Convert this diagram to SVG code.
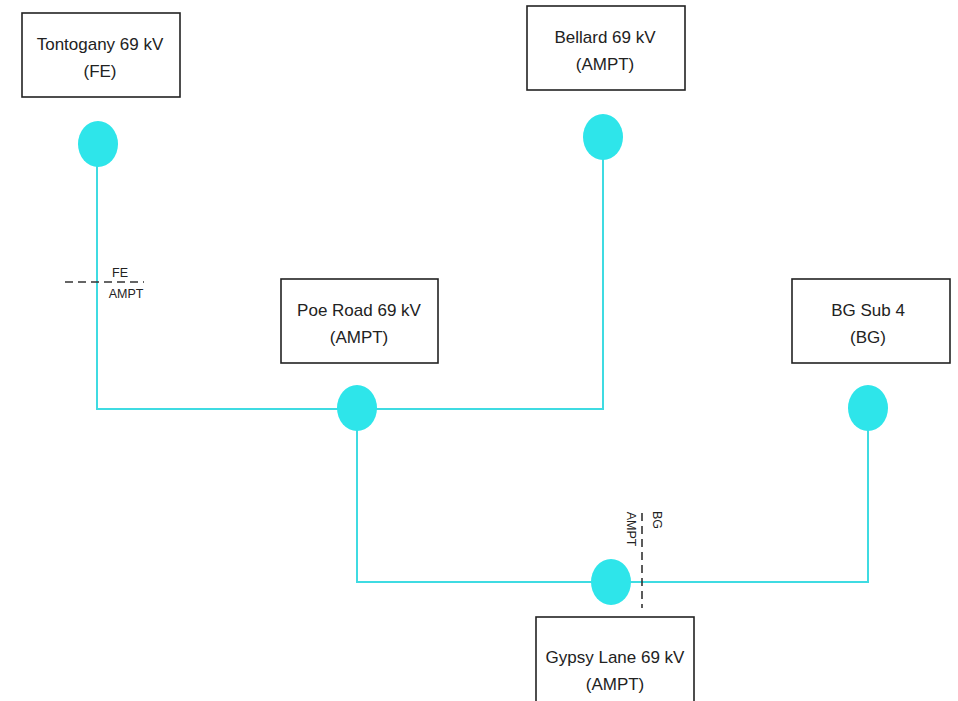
<svg xmlns="http://www.w3.org/2000/svg" width="958" height="701" viewBox="0 0 958 701">
<style>
.box{fill:#fff;stroke:#222;stroke-width:1.6}
.lbl{font-family:"Liberation Sans",Arial,sans-serif;font-size:17px;fill:#222;text-anchor:middle}
.sm{font-family:"Liberation Sans",Arial,sans-serif;font-size:12.5px;fill:#222}
.bus{fill:#2ee5ea}
.wire{fill:none;stroke:#3fdbe2;stroke-width:2}
.div{fill:none;stroke:#333;stroke-width:1.6;stroke-dasharray:8,5}
</style>
<rect width="958" height="701" fill="#fff"/>
<g id="connectors">
<polyline class="wire" points="97,160 97,409 603,409 603,155"/>
<polyline class="wire" points="357,409 357,582 868,582 868,425"/>
</g>
<g id="tontogany">
<rect class="box" x="22" y="13" width="158" height="84"/>
<text class="lbl" x="100" y="50">Tontogany 69 kV</text>
<text class="lbl" x="100" y="77">(FE)</text>
<ellipse class="bus" cx="98" cy="144" rx="20" ry="23"/>
</g>
<g id="bellard">
<rect class="box" x="527" y="6" width="158" height="84"/>
<text class="lbl" x="605" y="43">Bellard 69 kV</text>
<text class="lbl" x="605" y="70">(AMPT)</text>
<ellipse class="bus" cx="603" cy="137" rx="20" ry="23"/>
</g>
<g id="poe-road">
<rect class="box" x="281" y="279" width="157" height="84"/>
<text class="lbl" x="359" y="316">Poe Road 69 kV</text>
<text class="lbl" x="359" y="343">(AMPT)</text>
<ellipse class="bus" cx="357" cy="408" rx="20" ry="23"/>
</g>
<g id="bg-sub-4">
<rect class="box" x="792" y="279" width="158" height="84"/>
<text class="lbl" x="868" y="316">BG Sub 4</text>
<text class="lbl" x="868" y="343">(BG)</text>
<ellipse class="bus" cx="868" cy="408" rx="20" ry="23"/>
</g>
<g id="gypsy-lane">
<rect class="box" x="536" y="617" width="158" height="90"/>
<text class="lbl" x="615" y="663">Gypsy Lane 69 kV</text>
<text class="lbl" x="615" y="690">(AMPT)</text>
<ellipse class="bus" cx="611" cy="582" rx="20" ry="23"/>
</g>
<g id="boundary-fe">
<line class="div" x1="65" y1="282" x2="144" y2="282"/>
<text class="sm" x="120" y="277" text-anchor="middle">FE</text>
<text class="sm" x="126" y="298" text-anchor="middle">AMPT</text>
</g>
<g id="boundary-bg">
<line class="div" x1="642" y1="513" x2="642" y2="608"/>
<text class="sm" transform="translate(627,529) rotate(90)" text-anchor="middle">AMPT</text>
<text class="sm" transform="translate(653,520) rotate(90)" text-anchor="middle">BG</text>
</g>
</svg>
